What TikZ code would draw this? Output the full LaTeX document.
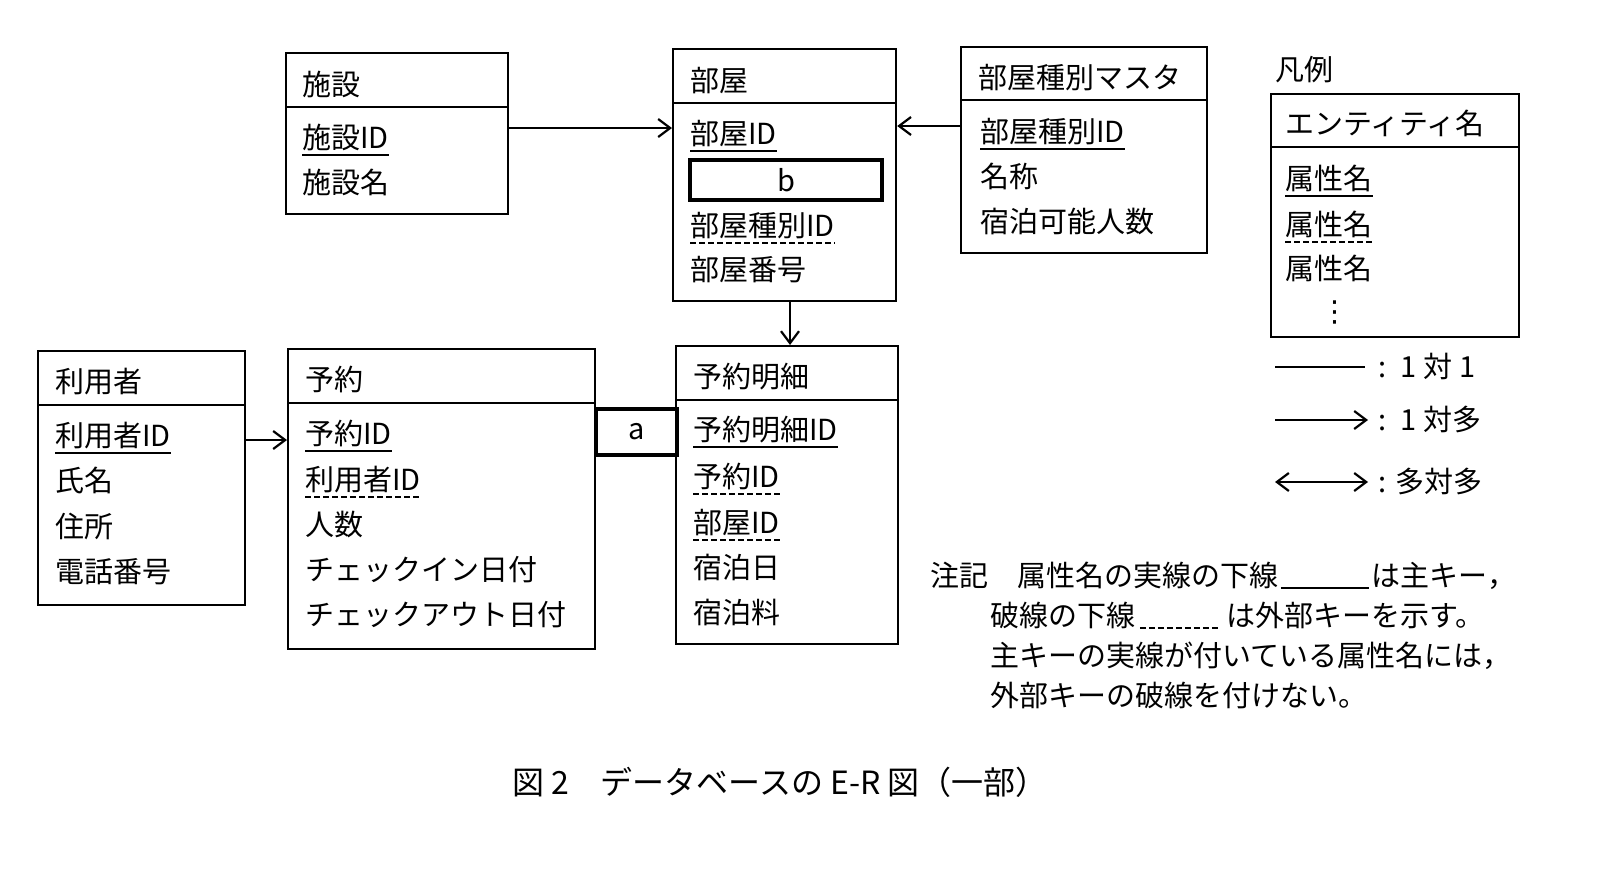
\documentclass[tikz,border=0pt]{standalone}
\usepackage{fontspec}
\setmainfont{Noto Sans CJK JP}
\newfontfamily\dejavu{DejaVu Sans}
\usetikzlibrary{arrows.meta}
\newcommand\ent[6]{%
  \node[ent,minimum width=#4pt*0.5-#2pt*0.5,minimum height=#5pt*0.5-#3pt*0.5,anchor=north west] (#1) at (#2,#3) {};%
  \draw[line width=1.1pt] (#2,#6) -- (#4,#6);}
\newcommand\txt[4]{\node[t] (#1) at (#2,#3) {#4};}
\newcommand\ul[2]{\draw[#2] ([yshift=-3.5pt]#1.base west) -- ([yshift=-3.5pt]#1.base east);}
\begin{document}
\begin{tikzpicture}[x=0.5pt,y=-0.5pt,
  t/.style={anchor=base west,inner sep=0pt,font=\fontsize{14.5}{16}\selectfont},
  ent/.style={draw,line width=1.1pt,inner sep=0pt},
  rel/.style={line width=1.1pt,-{Straight Barb[length=6pt,width=9pt]}},
  pk/.style={line width=0.9pt},
  fk/.style={line width=0.9pt,dash pattern=on 3pt off 1.5pt}]
% 施設
\ent{shisetsu}{285}{52}{507}{213}{107}
\txt{h1}{302}{95}{施設}
\txt{s1}{302}{148}{施設ID}\ul{s1}{pk}
\txt{s2}{302}{193}{施設名}
% 部屋
\ent{heya}{672}{48}{895}{300}{103}
\txt{h2}{690}{91}{部屋}
\txt{r1}{690}{144}{部屋ID}\ul{r1}{pk}
\node[draw,line width=2pt,minimum width=96pt,minimum height=20pt,anchor=north west,inner sep=0] (b) at (688,158) {\fontsize{14.5}{16}\selectfont b};
\txt{r3}{690}{236}{部屋種別ID}\ul{r3}{fk}
\txt{r4}{690}{280}{部屋番号}
% 部屋種別マスタ
\ent{master}{960}{46}{1206}{252}{100}
\txt{h3}{978}{88}{部屋種別マスタ}
\txt{m1}{980}{142}{部屋種別ID}\ul{m1}{pk}
\txt{m2}{980}{187}{名称}
\txt{m3}{980}{232}{宿泊可能人数}
% 凡例
\txt{lg}{1275}{80}{凡例}
\ent{legend}{1270}{93}{1518}{336}{147}
\txt{h4}{1285}{134}{エンティティ名}
\txt{l1}{1285}{189}{属性名}\ul{l1}{pk}
\txt{l2}{1285}{235}{属性名}\ul{l2}{fk}
\txt{l3}{1285}{279}{属性名}
\node[inner sep=0] (l4) at (1335,312) {\dejavu\fontsize{14.5}{16}\selectfont ⋮};
% 利用者
\ent{user}{37}{350}{244}{604}{405}
\txt{h5}{55}{392}{利用者}
\txt{u1}{55}{446}{利用者ID}\ul{u1}{pk}
\txt{u2}{55}{491}{氏名}
\txt{u3}{55}{537}{住所}
\txt{u4}{55}{582}{電話番号}
% 予約
\ent{yoyaku}{287}{348}{594}{648}{403}
\txt{h6}{305}{390}{予約}
\txt{y1}{305}{444}{予約ID}\ul{y1}{pk}
\txt{y2}{305}{490}{利用者ID}\ul{y2}{fk}
\txt{y3}{305}{535}{人数}
\txt{y4}{305}{580}{チェックイン日付}
\txt{y5}{305}{625}{チェックアウト日付}
% 予約明細
\ent{meisai}{675}{345}{897}{643}{400}
\txt{h7}{693}{387}{予約明細}
\txt{d1}{693}{440}{予約明細ID}\ul{d1}{pk}
\txt{d2}{693}{487}{予約ID}\ul{d2}{fk}
\txt{d3}{693}{533}{部屋ID}\ul{d3}{fk}
\txt{d4}{693}{578}{宿泊日}
\txt{d5}{693}{623}{宿泊料}
% a box
\node[draw,line width=2pt,minimum width=40.5pt,minimum height=23pt,anchor=north west,inner sep=0] (a) at (594,407) {\fontsize{14.5}{16}\selectfont a};
% relationships
\draw[rel] (shisetsu.east|-0,128) -- (heya.west|-0,128);
\draw[rel] (master.west|-0,126) -- (heya.east|-0,126);
\draw[rel] (heya.south-|790,0) -- (meisai.north-|790,0);
\draw[rel] (user.east|-0,440) -- (yoyaku.west|-0,440);
% legend lines
\coordinate (p1) at (1275,367); \coordinate (q1) at (1365,367);
\coordinate (p2) at (1275,420); \coordinate (q2) at (1368,420);
\coordinate (p3) at (1275,482); \coordinate (q3) at (1368,482);
\draw[line width=1.1pt] (p1) -- (q1);
\draw[rel] (p2) -- (q2);
\draw[line width=1.1pt,{Straight Barb[length=6pt,width=9pt]}-{Straight Barb[length=6pt,width=9pt]}] (p3) -- (q3);
\txt{k1}{1378}{377}{:\enspace 1 対 1}
\txt{k2}{1378}{430}{:\enspace 1 対多}
\txt{k3}{1378}{492}{: 多対多}
% notes
\txt{n1}{930}{586}{注記\quad 属性名の実線の下線}
\node[t] (n2) at ([xshift=46pt]n1.base east) {は主キー，};
\draw[pk] ([xshift=1pt,yshift=-1pt]n1.base east) -- ([xshift=45pt,yshift=-1pt]n1.base east);
\txt{n3}{990}{626}{破線の下線}
\node[t] (n4) at ([xshift=45pt]n3.base east) {は外部キーを示す。};
\draw[fk] ([xshift=2pt,yshift=-1pt]n3.base east) -- ([xshift=42pt,yshift=-1pt]n3.base east);
\txt{n5}{990}{666}{主キーの実線が付いている属性名には，}
\txt{n6}{990}{706}{外部キーの破線を付けない。}
% caption
\node[inner sep=0,font=\fontsize{16}{18}\selectfont] (cap) at (780,782) {図 2\quad データベースの E-R 図（一部）};
\pgfresetboundingbox
\useasboundingbox (0,0) rectangle (1616,874);
\end{tikzpicture}
\end{document}
